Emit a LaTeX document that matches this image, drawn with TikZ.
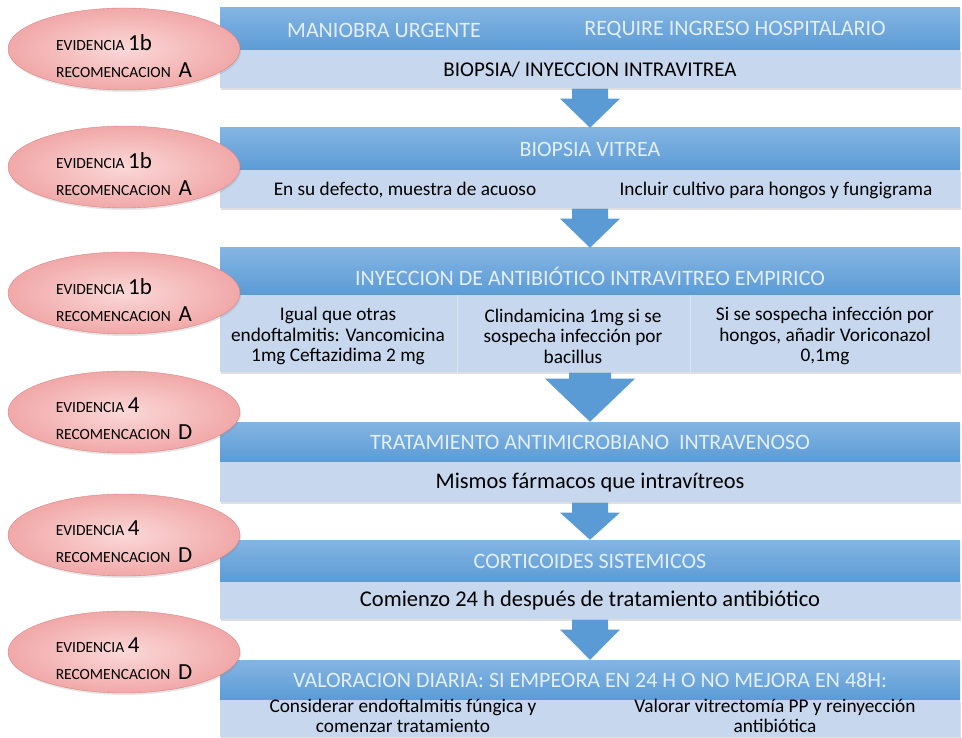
\documentclass[tikz,border=0pt]{standalone}
\usepackage{fontspec}
\setmainfont{Carlito}
\usetikzlibrary{positioning, calc, shapes.geometric, shadows}
\definecolor{headblue}{HTML}{5B9BD5}
\definecolor{headtop}{HTML}{84B5E3}
\definecolor{bodyblue}{HTML}{C6D7EE}
\definecolor{headtext}{HTML}{E4EEF9}
\definecolor{ovalin}{HTML}{FBD8D8}
\definecolor{ovalout}{HTML}{F1A8A8}
\definecolor{ovalline}{HTML}{D98587}
\tikzstyle{header} = [rectangle, minimum width=740pt, minimum height=42pt, inner sep=0pt, top color=headtop, bottom color=headblue, text=headtext, font=\fontsize{22}{26}\selectfont]
\tikzstyle{bodybox} = [rectangle, minimum width=740pt, minimum height=38pt, inner sep=0pt, fill=bodyblue, font=\fontsize{21}{24}\selectfont, drop shadow={shadow xshift=1pt, shadow yshift=-2pt, opacity=0.25}]
\tikzstyle{oval} = [ellipse, minimum width=232pt, minimum height=82pt, draw=ovalline, inner color=ovalin, outer color=ovalout, drop shadow={shadow xshift=1pt, shadow yshift=-2pt, opacity=0.2}]
\tikzstyle{ovaltext} = [align=left, inner sep=0pt, font=\fontsize{15.5}{27}\selectfont]
\tikzstyle{note} = [align=center, inner sep=0pt, font=\fontsize{19.3}{20.5}\selectfont]
\tikzstyle{headnote} = [inner sep=0pt, text=headtext, font=\fontsize{22}{26}\selectfont]
\tikzstyle{flow} = [fill=headblue]
\newcommand{\grado}[2]{EVIDENCIA {\fontsize{23}{27}\selectfont #1}\\RECOMENCACION\enspace{\fontsize{23}{27}\selectfont #2}}
\newcommand{\bajar}[5]{\fill[flow] ([xshift=-#3]#1.south) -- ([xshift=-#3,yshift=-#5]#1.south) -- ([xshift=-#4,yshift=-#5]#1.south) -- (#2.north) -- ([xshift=#4,yshift=-#5]#1.south) -- ([xshift=#3,yshift=-#5]#1.south) -- ([xshift=#3]#1.south) -- cycle;}

\begin{document}
\begin{tikzpicture}[x=1pt, y=-1pt]
\useasboundingbox (0,0) rectangle (962,738);

% boxes
\node (h1) [header] at (590,29) {};
\node (b1) [bodybox, below=0pt of h1] {BIOPSIA/ INYECCION INTRAVITREA};
\node (mu) [headnote] at (384,30) {MANIOBRA URGENTE};
\node (ih) [headnote] at (735,30) {REQUIRE INGRESO HOSPITALARIO};

\node (h2) [header] at (590,149) {BIOPSIA VITREA};
\node (b2) [bodybox, below=0pt of h2] {};
\node (acuoso) [note] at (405,190) {En su defecto, muestra de acuoso};
\node (hongos) [note] at (776,190) {Incluir cultivo para hongos y fungigrama};

\node (h3) [header, minimum height=47pt, text height=28pt, text depth=0pt] at (590,271.5) {INYECCION DE ANTIBIÓTICO INTRAVITREO EMPIRICO};
\node (b3) [bodybox, below=0pt of h3, minimum height=77pt] {};
\draw [white, opacity=0.35] (457,0 |- b3.north) -- (457,0 |- b3.south);
\draw [white, opacity=0.35] (690,0 |- b3.north) -- (690,0 |- b3.south);
\node (vanco) [note] at (338,336) {Igual que otras\\endoftalmitis: Vancomicina\\1mg Ceftazidima 2 mg};
\node (clinda) [note] at (573,336) {Clindamicina 1mg si se\\sospecha infección por\\bacillus};
\node (vori) [note] at (825,336) {Si se sospecha infección por\\hongos, añadir Voriconazol\\0,1mg};

\node (h4) [header, minimum height=40pt] at (590,442) {TRATAMIENTO ANTIMICROBIANO\ \ INTRAVENOSO};
\node (b4) [bodybox, below=0pt of h4, minimum height=40pt, font=\fontsize{22.4}{26}\selectfont] {Mismos fármacos que intravítreos};

\node (h5) [header] at (590,561) {CORTICOIDES SISTEMICOS};
\node (b5) [bodybox, below=0pt of h5, minimum height=37pt, font=\fontsize{22.5}{26}\selectfont] {Comienzo 24 h después de tratamiento antibiótico};

\node (h6) [header, minimum height=40pt] at (590,680) {VALORACION DIARIA: SI EMPEORA EN 24 H O NO MEJORA EN 48H:};
\node (b6) [bodybox, below=0pt of h6, minimum height=37pt] {};
\node (fungica) [note, font=\fontsize{19.3}{19.5}\selectfont] at (403,716) {Considerar endoftalmitis fúngica y\\comenzar tratamiento};
\node (vitrec) [note, font=\fontsize{19.3}{19.5}\selectfont] at (775,716) {Valorar vitrectomía PP y reinyección\\antibiótica};

% evidence ovals
\node (e1) [oval] at (124,49) {};
\node (g1) [ovaltext] at ([yshift=-7pt]e1.center) {\grado{1b}{A}};
\node (e2) [oval] at (124,167) {};
\node (g2) [ovaltext] at ([yshift=-7pt]e2.center) {\grado{1b}{A}};
\node (e3) [oval] at (124,293) {};
\node (g3) [ovaltext] at ([yshift=-7pt]e3.center) {\grado{1b}{A}};
\node (e4) [oval] at (124,412) {};
\node (g4) [ovaltext] at ([yshift=-7pt]e4.center) {\grado{4}{D}};
\node (e5) [oval] at (124,535) {};
\node (g5) [ovaltext] at ([yshift=-7pt]e5.center) {\grado{4}{D}};
\node (e6) [oval] at (124,652) {};
\node (g6) [ovaltext] at ([yshift=-7pt]e6.center) {\grado{4}{D}};

% arrows
\bajar{b1}{h2}{18pt}{30pt}{10pt}
\bajar{b2}{h3}{18pt}{30pt}{10pt}
\bajar{b3}{h4}{21pt}{45pt}{6pt}
\bajar{b4}{h5}{18pt}{30pt}{10pt}
\bajar{b5}{h6}{18pt}{30pt}{10pt}

\end{tikzpicture}
\end{document}
